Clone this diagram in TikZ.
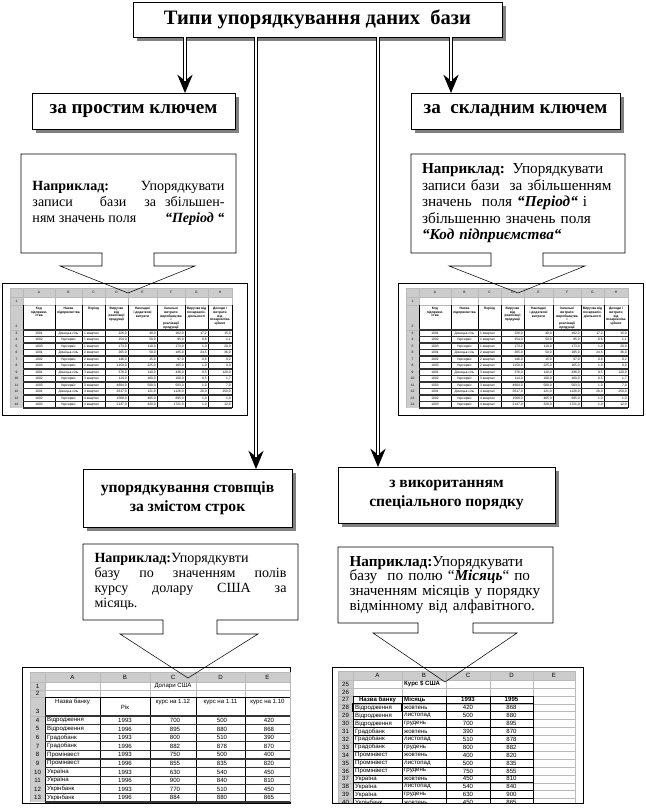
\documentclass[tikz,border=0pt]{standalone}
\usepackage{fontspec}
\setmainfont{Liberation Serif}
\newfontfamily\sheetfont{Liberation Sans}
\usetikzlibrary{arrows.meta,shadows}

\tikzset{
  headbox/.style={draw, fill=white, inner sep=0, outer sep=0, align=center,
    drop shadow={shadow xshift=1.2mm, shadow yshift=-1.2mm, fill=gray, opacity=1}},
  dblline/.style={double, double distance=0.75mm, line width=0.3mm, shorten >=3.6mm},
  tipline/.style={line width=0.3mm, -{Stealth[length=5.5mm, width=4.6mm]}},
  notebox/.style={inner sep=0, outer sep=0, text width=57.6mm, align=justify,
    minimum width=64.5mm, font=\fontsize{12}{13.8}\selectfont},
  calloutline/.style={line width=0.45pt},
  sheetframe/.style={draw, line width=0.5pt},
  hdrfill/.style={fill=gray!40},
  gridline/.style={gray!55, line width=0.2pt},
  tabline/.style={black, line width=0.5pt},
  barline/.style={black!80, line width=1pt},
  celltiny/.style={inner sep=0, align=center, font=\sheetfont\fontsize{2.8}{3.2}\selectfont},
  cellsmall/.style={inner sep=0, font=\sheetfont\fontsize{5.2}{6}\selectfont},
}

\begin{document}
\begin{tikzpicture}[x=0.3mm,y=-0.3mm]
\useasboundingbox (0,0) rectangle (645,812);

% two copies of the same sheet at the top
\foreach \sx in {0,396}{
\begin{scope}[shift={(\sx,0)}]
\draw[sheetframe] (2,283) rectangle (247,415);
\fill[hdrfill] (10,288) rectangle (232,297);
\fill[hdrfill] (10,297) rectangle (23,408);
\foreach \cx in {10,23,55,82,105,128,157,185,208,232} \draw[gridline] (\cx,288) -- (\cx,408);
\foreach \ry in {288,297,305,330} \draw[gridline] (10,\ry) -- (232,\ry);
\foreach \cx in {23,55,82,105,128,157,185,208,232} \draw[tabline] (\cx,305) -- (\cx,408);
\foreach \k in {0,...,12} \draw[barline] (23,{330+6.5*\k}) -- (232,{330+6.5*\k});

\foreach \cx/\cl in {39/A,68.5/B,93.5/C,116.5/D,142.5/E,171/F,196.5/G,220/H}
  \node[celltiny] (h\sx\cl) at (\cx,292.5) {\cl};
\node[celltiny] (n\sx-1) at (16.5,301) {1};
\node[celltiny] (n\sx-2) at (16.5,326) {2};
\foreach \r in {3,...,14} \node[celltiny] (n\sx-\r) at (16.5,{333.25+6.5*(\r-3)}) {\r};

\node[celltiny, anchor=north] (k\sx a) at (39,307) {\textbf{Код}\\\textbf{підприєм-}\\\textbf{ства}};
\node[celltiny, anchor=north] (k\sx b) at (68.5,307) {\textbf{Назва}\\\textbf{підприємства}};
\node[celltiny, anchor=north] (k\sx c) at (93.5,307) {\textbf{Період}};
\node[celltiny, anchor=north] (k\sx d) at (116.5,307) {\textbf{Виручка}\\\textbf{від}\\\textbf{реалізації}\\\textbf{продукції}};
\node[celltiny, anchor=north] (k\sx e) at (142.5,307) {\textbf{Накладні}\\\textbf{і додаткові}\\\textbf{витрати}};
\node[celltiny, anchor=north] (k\sx f) at (171,307) {\textbf{Загальні}\\\textbf{витрати}\\\textbf{виробництва}\\\textbf{і}\\\textbf{реалізації}\\\textbf{продукції}};
\node[celltiny, anchor=north] (k\sx g) at (196.5,307) {\textbf{Виручка від}\\\textbf{позареаліз.}\\\textbf{діяльності}};
\node[celltiny, anchor=north] (k\sx h) at (220,307) {\textbf{Доходи і}\\\textbf{витрати}\\\textbf{від}\\\textbf{позареаліза-}\\\textbf{ційних}};

\foreach \r/\va/\vb/\vc/\vd/\ve/\vf/\vg/\vh in {
  3/1001/Донецьк-сіль/1 квартал/{226,0}/{40,0}/{162,0}/{17,2}/{15,0},
  4/1002/Укрсервіс/1 квартал/{154,0}/{50,0}/{95,0}/{0,6}/{1,1},
  5/1003/Укрсервіс/1 квартал/{173,0}/{110,0}/{173,0}/{1,0}/{20,0},
  6/1001/Донецьк-сіль/2 квартал/{265,0}/{50,0}/{185,0}/{24,5}/{36,0},
  7/1002/Укрсервіс/2 квартал/{146,0}/{15,0}/{97,0}/{0,6}/{0,2},
  8/1003/Укрсервіс/2 квартал/{1150,0}/{225,0}/{165,0}/{1,0}/{0,0},
  9/1001/Донецьк-сіль/3 квартал/{376,0}/{110,0}/{436,0}/{9,5}/{120,0},
  10/1002/Укрсервіс/3 квартал/{114,0}/{100,0}/{100,0}/{0,5}/{1,7},
  11/1003/Укрсервіс/3 квартал/{4604,0}/{500,0}/{503,0}/{1,0}/{7,0},
  12/1001/Донецьк-сіль/4 квартал/{2617,0}/{121,0}/{1126,0}/{20,0}/{250,0},
  13/1002/Укрсервіс/4 квартал/{1568,0}/{405,0}/{695,0}/{1,0}/{1,0},
  14/1003/Укрсервіс/4 квартал/{2137,0}/{320,0}/{1721,0}/{1,0}/{12,0}}{
  \node[celltiny] (a\sx-\r) at (39,{333.25+6.5*(\r-3)}) {\va};
  \node[celltiny] (b\sx-\r) at (68.5,{333.25+6.5*(\r-3)}) {\vb};
  \node[celltiny, anchor=west] (c\sx-\r) at (84,{333.25+6.5*(\r-3)}) {\vc};
  \node[celltiny, anchor=east] (d\sx-\r) at (127,{333.25+6.5*(\r-3)}) {\vd};
  \node[celltiny, anchor=east] (e\sx-\r) at (156,{333.25+6.5*(\r-3)}) {\ve};
  \node[celltiny, anchor=east] (f\sx-\r) at (184,{333.25+6.5*(\r-3)}) {\vf};
  \node[celltiny, anchor=east] (g\sx-\r) at (207,{333.25+6.5*(\r-3)}) {\vg};
  \node[celltiny, anchor=east] (i\sx-\r) at (231,{333.25+6.5*(\r-3)}) {\vh};
}
\end{scope}
}

% sheet with the dollar rates
\draw[sheetframe] (22,667) rectangle (290,803);
\fill[hdrfill] (30,672) rectangle (290,682);
\fill[hdrfill] (30,682) rectangle (45,802);
\foreach \cx in {30,45,100,150,196,245,290} \draw[gridline] (\cx,672) -- (\cx,802);
\foreach \ry in {672,682,690,697,716} \draw[gridline] (30,\ry) -- (290,\ry);
\foreach \cx in {45,100,150,196,245} \draw[tabline] (\cx,697) -- (\cx,802);
\foreach \k in {0,...,10} \draw[barline] (45,{716+8.6*\k}) -- (290,{716+8.6*\k});
\draw[tabline] (45,697) -- (290,697);

\foreach \cx/\cl in {72.5/A,125/B,173/C,220.5/D,267.5/E} \node[cellsmall] (u\cl) at (\cx,677) {\cl};
\node[cellsmall] (u1) at (37.5,686) {1};
\node[cellsmall] (u2) at (37.5,693.5) {2};
\node[cellsmall] (u3) at (37.5,711) {3};
\foreach \r in {4,...,13} \node[cellsmall] (u\r) at (37.5,{720.3+8.6*(\r-4)}) {\r};
\node[cellsmall] (usd) at (173,686) {Долари США};
\node[cellsmall] (ubank) at (72.5,702) {Назва банку};
\node[cellsmall] (uyear) at (125,707) {Рік};
\node[cellsmall] (ur12) at (173,702) {курс на 1.12};
\node[cellsmall] (ur11) at (220.5,702) {курс на 1.11};
\node[cellsmall] (ur10) at (267.5,702) {курс на 1.10};
\foreach \r/\bank/\yr/\va/\vb/\vc in {
  4/Відродження/1993/700/500/420, 5/Відродження/1996/895/880/868,
  6/Градобанк/1993/800/510/390, 7/Градобанк/1996/882/878/870,
  8/Промінвест/1993/750/500/400, 9/Промінвест/1996/855/835/820,
  10/Україна/1993/630/540/450, 11/Україна/1996/900/840/810,
  12/Укрінбанк/1993/770/510/450, 13/Укрінбанк/1996/884/880/865}{
  \node[cellsmall, anchor=west] (ua\r) at (47,{720.3+8.6*(\r-4)}) {\bank};
  \node[cellsmall] (ub\r) at (125,{720.3+8.6*(\r-4)}) {\yr};
  \node[cellsmall] (uc\r) at (175,{720.3+8.6*(\r-4)}) {\va};
  \node[cellsmall] (ud\r) at (222,{720.3+8.6*(\r-4)}) {\vb};
  \node[cellsmall] (ue\r) at (269,{720.3+8.6*(\r-4)}) {\vc};
}

% sheet sorted by month
\begin{scope}
\clip (332,667) rectangle (583,803);
\fill[hdrfill] (338,671) rectangle (575,680);
\fill[hdrfill] (338,680) rectangle (353,810);
\foreach \cx in {338,353,402,446,490,533,575} \draw[gridline] (\cx,671) -- (\cx,810);
\foreach \k in {0,...,17} \draw[gridline] (338,{671+9*min(\k,1)+7.9*max(\k-1,0)}) -- (575,{671+9*min(\k,1)+7.9*max(\k-1,0)});
\foreach \cx in {353,402,446,490,533} \draw[tabline] (\cx,695.8) -- (\cx,810);
\foreach \k in {2,...,16} \draw[tabline] (353,{680+7.9*\k}) -- (533,{680+7.9*\k});
\draw[line width=1pt] (353,703.7) rectangle (402,711.6);

\foreach \cx/\cl in {377.5/A,424/B,468/C,511.5/D,554/E} \node[cellsmall] (m\cl) at (\cx,675.5) {\cl};
\foreach \r in {25,...,40} \node[cellsmall] (m\r) at (345.5,{684+7.9*(\r-25)}) {\r};
\node[cellsmall, anchor=west] (mtitle) at (404,684) {\textbf{Курс \$ США}};
\node[cellsmall] (mbank) at (377.5,699.8) {\textbf{Назва банку}};
\node[cellsmall, anchor=west] (mmonth) at (404,699.8) {\textbf{Місяць}};
\node[cellsmall] (my93) at (468,699.8) {\textbf{1993}};
\node[cellsmall] (my95) at (511.5,699.8) {\textbf{1995}};
\foreach \r/\bank/\mon/\va/\vb in {
  28/Відродження/жовтень/420/868, 29/Відродження/листопад/500/880,
  30/Відродження/грудень/700/895, 31/Градобанк/жовтень/390/870,
  32/Градобанк/листопад/510/878, 33/Градобанк/грудень/800/882,
  34/Промінвест/жовтень/400/820, 35/Промінвест/листопад/500/835,
  36/Промінвест/грудень/750/855, 37/Україна/жовтень/450/810,
  38/Україна/листопад/540/840, 39/Україна/грудень/630/900,
  40/Укрінбанк/жовтень/450/865}{
  \node[cellsmall, anchor=west] (ma\r) at (355,{684+7.9*(\r-25)}) {\bank};
  \node[cellsmall, anchor=west] (mb\r) at (404,{684+7.9*(\r-25)}) {\mon};
  \node[cellsmall] (mc\r) at (468,{684+7.9*(\r-25)}) {\va};
  \node[cellsmall] (md\r) at (511.5,{684+7.9*(\r-25)}) {\vb};
}
\end{scope}
\draw[sheetframe] (332,667) rectangle (583,803);

% boxes
\node[headbox, minimum width=110.7mm, minimum height=10.5mm, font=\fontsize{17.5}{19}\selectfont\bfseries] (title) at (317.5,19.5) {Типи упорядкування даних\ \ бази};
\node[headbox, minimum width=60.9mm, minimum height=10.8mm, font=\fontsize{16.3}{18}\selectfont\bfseries] (simple) at (133.5,111) {за простим ключем};
\node[headbox, minimum width=62.7mm, minimum height=10.8mm, font=\fontsize{16.3}{18}\selectfont\bfseries] (compound) at (515.5,111) {за\ \ складним ключем};
\node[headbox, minimum width=62.7mm, minimum height=17.4mm, font=\fontsize{13.3}{16}\selectfont\bfseries] (columns) at (187.5,498) {упорядкування стовпців\\за змістом строк};
\node[headbox, minimum width=65.1mm, minimum height=16.8mm, font=\fontsize{13.3}{16}\selectfont\bfseries] (special) at (446.5,495) {з викоританням\\спеціального порядку};

\coordinate (c1) at (185,0);
\coordinate (c2) at (256,0);
\coordinate (c3) at (378,0);
\coordinate (c4) at (451,0);
\draw[tipline] (c1 |- title.south) -- (c1 |- simple.north);
\draw[dblline] (c1 |- title.south) -- (c1 |- simple.north);
\draw[tipline] (c2 |- title.south) -- (c2 |- columns.north);
\draw[dblline] (c2 |- title.south) -- (c2 |- columns.north);
\draw[tipline] (c3 |- title.south) -- (c3 |- special.north);
\draw[dblline] (c3 |- title.south) -- (c3 |- special.north);
\draw[tipline] (c4 |- title.south) -- (c4 |- compound.north);
\draw[dblline] (c4 |- title.south) -- (c4 |- compound.north);

% examples
\node[notebox, minimum height=29.7mm] (ex1) at (128.5,203.5) {\textbf{Наприклад:}\hfill Упорядкувати\linebreak записи\ \ \ бази\ \ за збільшен-\linebreak ням значень поля\hfill\textbf{\textit{“Період “}}};
\node[notebox, minimum width=64.2mm, minimum height=29.7mm, align=left, font=\fontsize{13}{14.1}\selectfont] (ex2) at (518,203.5) {\textbf{Наприклад:} Упорядкувати\\ записи бази\ \ за збільшенням\\ значень\ \ поля \textbf{\textit{“Період“}} і\\ збільшенню значень поля\\ \textbf{\textit{“Код підприємства“}}};
\node[notebox, minimum height=22.8mm, font=\fontsize{12}{12.7}\selectfont] (ex3) at (190.5,582) {\textbf{Наприклад:}Упорядкувти\newline базу по значенням полів\linebreak курсу долару США за\linebreak місяць.};
\node[notebox, minimum height=22.8mm, align=left, font=\fontsize{13}{12.7}\selectfont] (ex4) at (445.5,585) {\textbf{Наприклад:}Упорядкувати\\ базу\ \ по полю “\textbf{\textit{Місяць}}“ по\\ значенням місяців у порядку\\ відмінному від алфавітного.};

\coordinate (tip1) at (128,293);
\coordinate (tip2) at (518,293);
\coordinate (tip3) at (188,678);
\coordinate (tip4) at (445,682);
\draw[calloutline] (ex1.south west) -- (ex1.north west) -- (ex1.north east) -- (ex1.south east) -- (154,253) -- (154,266) -- (195,266) -- (tip1) -- (60,266) -- (102,266) -- (102,253) -- cycle;
\draw[calloutline] (ex2.south west) -- (ex2.north west) -- (ex2.north east) -- (ex2.south east) -- (543,253) -- (543,266) -- (585,266) -- (tip2) -- (449,266) -- (491,266) -- (491,253) -- cycle;
\draw[calloutline] (ex3.south west) -- (ex3.north west) -- (ex3.north east) -- (ex3.south east) -- (217,620) -- (217,634) -- (258,634) -- (tip3) -- (120,634) -- (163,634) -- (163,620) -- cycle;
\draw[calloutline] (ex4.south west) -- (ex4.north west) -- (ex4.north east) -- (ex4.south east) -- (473,623) -- (473,633) -- (517,633) -- (tip4) -- (373,633) -- (418,633) -- (418,623) -- cycle;
\end{tikzpicture}
\end{document}
